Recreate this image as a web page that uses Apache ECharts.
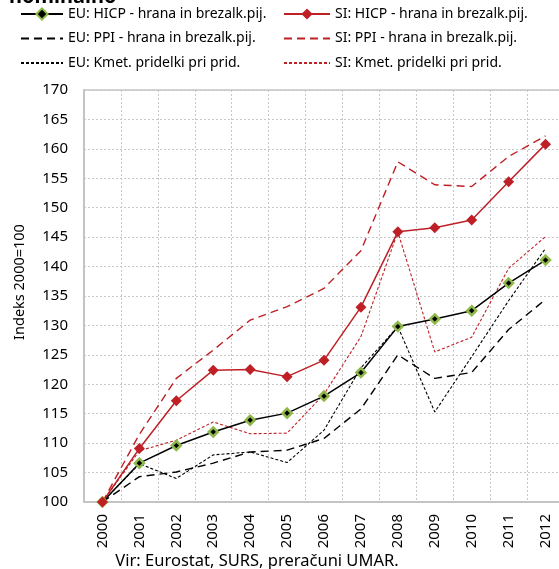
<!DOCTYPE html>
<html>
<head>
<meta charset="utf-8">
<script src="https://cdn.jsdelivr.net/npm/echarts@6/dist/echarts.min.js"></script>
<style>
  html, body { margin: 0; padding: 0; background: #fff; }
  #chart { width: 559px; height: 569px; }
</style>
</head>
<body>
<div id="chart"></div>
<script>
const years = ['2000', '2001', '2002', '2003', '2004', '2005', '2006', '2007', '2008', '2009', '2010', '2011', '2012']
const yTicks = [100, 170, 5]

const euHicp = [100, 106.6, 109.6, 111.9, 113.9, 115.1, 118.0, 122.0, 129.8, 131.1, 132.5, 137.2, 141.1]
const siHicp = [100, 109.1, 117.2, 122.4, 122.5, 121.3, 124.1, 133.1, 145.9, 146.6, 147.9, 154.4, 160.8]
const euPpi = [100, 104.3, 105.1, 106.6, 108.5, 108.8, 110.8, 115.8, 125.0, 121.0, 122.0, 129.3, 134.4]
const siPpi = [100, 111.5, 121.0, 125.8, 130.9, 133.2, 136.3, 142.7, 157.8, 153.9, 153.6, 158.7, 162.2]
const euKmet = [100, 106.5, 104.0, 108.0, 108.5, 106.7, 112.2, 122.8, 129.8, 115.3, 124.7, 134.2, 143.1]
const siKmet = [100, 108.7, 110.5, 113.6, 111.6, 111.7, 118.3, 128.1, 145.9, 125.5, 128.0, 139.7, 145.1]

const names = {
  euHicp: 'EU: HICP - hrana in brezalk.pij.',
  siHicp: 'SI: HICP - hrana in brezalk.pij.',
  euPpi: 'EU: PPI - hrana in brezalk.pij.',
  siPpi: 'SI: PPI - hrana in brezalk.pij.',
  euKmet: 'EU: Kmet. pridelki pri prid.',
  siKmet: 'SI: Kmet. pridelki pri prid.'
}

const RED = '#be2026'
const FONT = 'Noto Sans'

function line(name, data, color, type, width, symbol) {
  return {
    name: name,
    type: 'line',
    data: data,
    symbol: symbol ? 'diamond' : 'none',
    symbolSize: symbol === 'green' ? 9 : 11,
    itemStyle: symbol === 'green'
      ? { color: '#000', borderColor: '#8fb84a', borderWidth: 2.5 }
      : { color: color },
    lineStyle: { color: color, type: type, width: width },
    emphasis: { disabled: true },
    animation: false,
    z: symbol ? 5 : 3
  }
}

// legend items of plain lines get no marker
function noMark(name) {
  return { name: name, itemStyle: { opacity: 0 } }
}

let myChart = echarts.init(document.getElementById('chart'))
let option = {
  textStyle: { fontFamily: FONT },
  title: {
    text: 'nominalno',
    left: 4,
    top: -18,
    textStyle: { fontFamily: FONT, fontSize: 20, fontWeight: 'bold', color: '#000' }
  },
  legend: [
    {
      data: [names.euHicp, noMark(names.euPpi), noMark(names.euKmet)],
      orient: 'vertical',
      left: 15,
      top: 2,
      itemWidth: 42,
      itemHeight: 14,
      itemGap: 10.5,
      textStyle: { fontFamily: FONT, fontSize: 14, color: '#000' }
    },
    {
      data: [names.siHicp, noMark(names.siPpi), noMark(names.siKmet)],
      orient: 'vertical',
      left: 278,
      top: 2,
      itemWidth: 46,
      itemHeight: 14,
      itemGap: 10.5,
      textStyle: { fontFamily: FONT, fontSize: 14, color: '#000' }
    }
  ],
  grid: {
    left: 84,
    right: -5,
    top: 90,
    bottom: 67,
    containLabel: false,
    outerBoundsMode: 'none',
    show: true,
    borderColor: '#c4c4c4',
    borderWidth: 1.5
  },
  xAxis: {
    type: 'category',
    data: years,
    boundaryGap: true,
    name: 'Vir: Eurostat, SURS, preračuni UMAR.',
    nameLocation: 'middle',
    nameGap: 51,
    nameMoveOverlap: false,
    nameTextStyle: { fontFamily: FONT, fontSize: 16.5, color: '#000', padding: [0, 134, 0, 0] },
    axisLine: { lineStyle: { color: '#c4c4c4', width: 2 } },
    axisTick: { show: false },
    axisLabel: { rotate: 90, margin: 12, fontSize: 15, color: '#000', fontFamily: FONT },
    splitLine: { show: true, interval: 0, lineStyle: { color: '#c8c8c8', type: [2, 2], width: 1 } }
  },
  yAxis: {
    type: 'value',
    min: yTicks[0],
    max: yTicks[1],
    interval: yTicks[2],
    name: 'Indeks 2000=100',
    nameLocation: 'middle',
    nameGap: 57,
    nameTextStyle: { fontFamily: FONT, fontSize: 14.5, color: '#000', padding: [0, 0, 0, 28] },
    axisLine: { show: true, lineStyle: { color: '#c4c4c4', width: 2 } },
    axisTick: { show: false },
    axisLabel: { fontSize: 15, color: '#000', margin: 16, fontFamily: FONT },
    splitLine: { show: true, lineStyle: { color: '#c8c8c8', type: [2, 2], width: 1 } }
  },
  series: [
    line(names.euPpi, euPpi, '#000', [8, 5], 1.4, null),
    line(names.siPpi, siPpi, RED, [8, 5], 1.4, null),
    line(names.euKmet, euKmet, '#000', [3, 2], 1.1, null),
    line(names.siKmet, siKmet, RED, [3, 2], 1.1, null),
    line(names.euHicp, euHicp, '#000', 'solid', 1.5, 'green'),
    line(names.siHicp, siHicp, RED, 'solid', 1.5, 'red')
  ]
}
myChart.setOption(option)
</script>
</body>
</html>
